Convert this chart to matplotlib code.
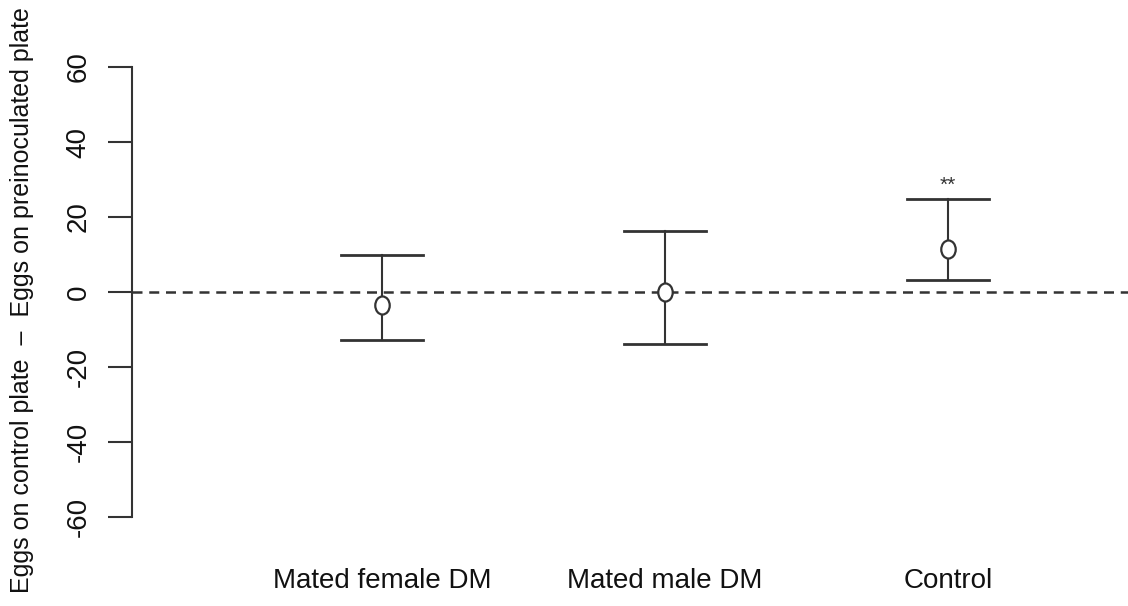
import numpy as np
import matplotlib.pyplot as plt
from matplotlib.markers import MarkerStyle
from matplotlib.transforms import Affine2D

plt.rcParams['font.family'] = ['Liberation Sans', 'DejaVu Sans']

# data
groups = ['Mated female DM', 'Mated male DM', 'Control']
means = [-3.4, 0.0, 11.4]
upper = [9.9, 16.3, 24.8]
lower = [-12.9, -13.8, 3.2]
signif = ['', '', '**']
yticks = [-60, -40, -20, 0, 20, 40, 60]

x = np.arange(1, len(groups) + 1)

fig = plt.figure(figsize=(11.28, 6.06), dpi=100)
ax = fig.add_axes([132 / 1128, 71 / 606, 996 / 1128, 486 / 606])

col = '#333333'
ax.axhline(0, color=col, lw=1.8, ls=(0, (4, 2.7)), zorder=1)
cw = 0.145
oval = MarkerStyle('o', fillstyle='full', transform=Affine2D().scale(0.8, 1.0))
for xi, m, lo, hi, s in zip(x, means, lower, upper, signif):
    ax.plot([xi, xi], [lo, hi], color=col, lw=1.5, zorder=2)
    ax.plot([xi - cw, xi + cw], [hi, hi], color=col, lw=2, zorder=2)
    ax.plot([xi - cw, xi + cw], [lo, lo], color=col, lw=2, zorder=2)
    ax.plot(xi, m, marker=oval, ms=13, mfc='white', mec=col, mew=1.6, zorder=3)
    if s:
        ax.text(xi, hi + 1.0, s, ha='center', va='bottom', fontsize=15, color=col)

ax.set_xlim(1 - 250 / 283, 1 - 250 / 283 + 996 / 283)
ax.set_ylim(-64.8, 64.8)
ax.set_yticks(yticks)
ax.set_yticklabels([str(t) for t in yticks], rotation=90, va='center', fontsize=20, color='#111111')
ax.set_xticks(x)
ax.set_xticklabels(groups, fontsize=20, color='#111111')
ax.tick_params(axis='x', length=0, pad=24)
ax.tick_params(axis='y', length=17, width=1.5, color=col, pad=12)
for sp in ['top', 'right', 'bottom']:
    ax.spines[sp].set_visible(False)
ax.spines['left'].set_bounds(-60, 60)
ax.spines['left'].set_color(col)
ax.spines['left'].set_linewidth(1.5)

fig.text(22 / 1128, 1 - 300 / 606, 'Eggs on control plate  \u2013  Eggs on preinoculated plate',
         rotation=90, ha='center', va='center', fontsize=18, color='#111111')

fig.savefig('out.png', dpi=100)
